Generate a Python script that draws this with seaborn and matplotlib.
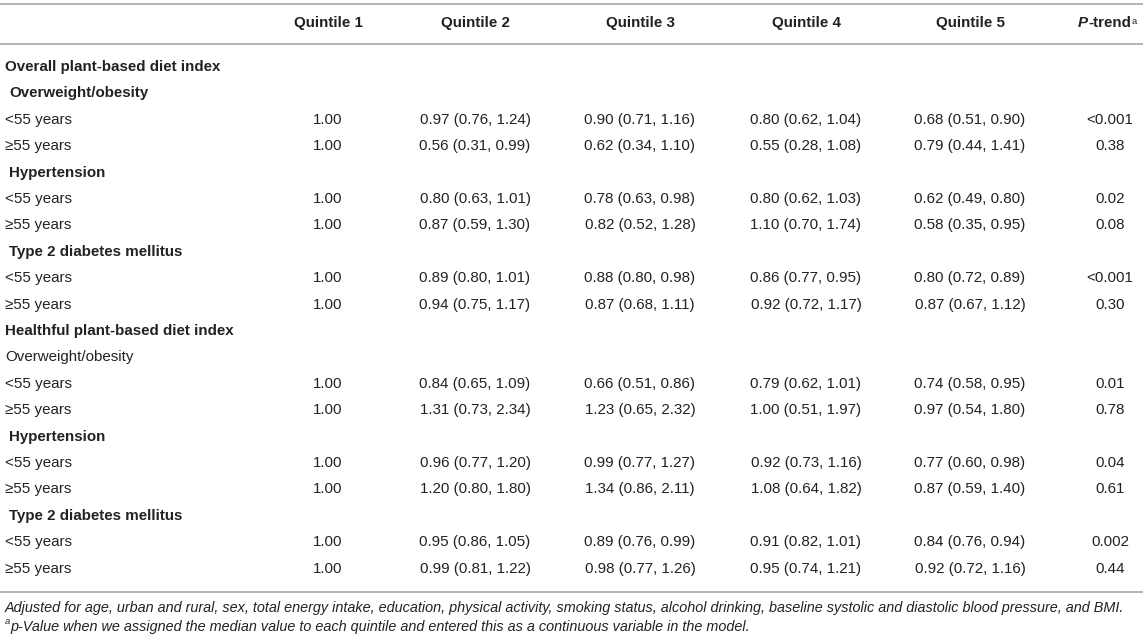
import matplotlib
matplotlib.use("Agg")
import matplotlib.pyplot as plt
import seaborn as sns
import pandas as pd

sns.set_theme(style="white")
plt.rcParams['font.family'] = ['Liberation Sans', 'DejaVu Sans']

# ---------------- data ----------------
columns = ["Quintile 1", "Quintile 2", "Quintile 3", "Quintile 4", "Quintile 5"]
p_header = "P-trend"

row_labels = [
    "Overall plant-based diet index", "Overweight/obesity", "<55 years", "≥55 years",
    "Hypertension", "<55 years", "≥55 years",
    "Type 2 diabetes mellitus", "<55 years", "≥55 years",
    "Healthful plant-based diet index", "Overweight/obesity", "<55 years", "≥55 years",
    "Hypertension", "<55 years", "≥55 years",
    "Type 2 diabetes mellitus", "<55 years", "≥55 years",
]
# row kind: 0 = section (bold), 1 = subsection bold indented, 2 = plain subsection, 3 = data row
row_kind = [0, 1, 3, 3, 1, 3, 3, 1, 3, 3, 0, 2, 3, 3, 1, 3, 3, 1, 3, 3]

q1 = ["", "", "1.00", "1.00", "", "1.00", "1.00", "", "1.00", "1.00",
      "", "", "1.00", "1.00", "", "1.00", "1.00", "", "1.00", "1.00"]
q2 = ["", "", "0.97 (0.76, 1.24)", "0.56 (0.31, 0.99)", "", "0.80 (0.63, 1.01)", "0.87 (0.59, 1.30)",
      "", "0.89 (0.80, 1.01)", "0.94 (0.75, 1.17)",
      "", "", "0.84 (0.65, 1.09)", "1.31 (0.73, 2.34)", "", "0.96 (0.77, 1.20)", "1.20 (0.80, 1.80)",
      "", "0.95 (0.86, 1.05)", "0.99 (0.81, 1.22)"]
q3 = ["", "", "0.90 (0.71, 1.16)", "0.62 (0.34, 1.10)", "", "0.78 (0.63, 0.98)", "0.82 (0.52, 1.28)",
      "", "0.88 (0.80, 0.98)", "0.87 (0.68, 1.11)",
      "", "", "0.66 (0.51, 0.86)", "1.23 (0.65, 2.32)", "", "0.99 (0.77, 1.27)", "1.34 (0.86, 2.11)",
      "", "0.89 (0.76, 0.99)", "0.98 (0.77, 1.26)"]
q4 = ["", "", "0.80 (0.62, 1.04)", "0.55 (0.28, 1.08)", "", "0.80 (0.62, 1.03)", "1.10 (0.70, 1.74)",
      "", "0.86 (0.77, 0.95)", "0.92 (0.72, 1.17)",
      "", "", "0.79 (0.62, 1.01)", "1.00 (0.51, 1.97)", "", "0.92 (0.73, 1.16)", "1.08 (0.64, 1.82)",
      "", "0.91 (0.82, 1.01)", "0.95 (0.74, 1.21)"]
q5 = ["", "", "0.68 (0.51, 0.90)", "0.79 (0.44, 1.41)", "", "0.62 (0.49, 0.80)", "0.58 (0.35, 0.95)",
      "", "0.80 (0.72, 0.89)", "0.87 (0.67, 1.12)",
      "", "", "0.74 (0.58, 0.95)", "0.97 (0.54, 1.80)", "", "0.77 (0.60, 0.98)", "0.87 (0.59, 1.40)",
      "", "0.84 (0.76, 0.94)", "0.92 (0.72, 1.16)"]
p_trend = ["", "", "<0.001", "0.38", "", "0.02", "0.08", "", "<0.001", "0.30",
           "", "", "0.01", "0.78", "", "0.04", "0.61", "", "0.002", "0.44"]

footnote1 = ("Adjusted for age, urban and rural, sex, total energy intake, education, physical activity, "
             "smoking status, alcohol drinking, baseline systolic and diastolic blood pressure, and BMI.")
footnote2 = ("p-Value when we assigned the median value to each quintile and entered this as a "
             "continuous variable in the model.")

df = pd.DataFrame({"label": row_labels, "kind": row_kind, "Quintile 1": q1, "Quintile 2": q2,
                   "Quintile 3": q3, "Quintile 4": q4, "Quintile 5": q5, "P": p_trend})

# ---------------- layout ----------------
W, H = 1146, 639
fig = plt.figure(figsize=(W / 100, H / 100), dpi=100)
ax = fig.add_axes([0, 0, 1, 1])
ax.set_xlim(0, W)
ax.set_ylim(H, 0)
ax.axis("off")

txt = "#222222"
line_c = "#b4b4b4"
fs = 10.9
fs_foot = 10.4
col_x = [328, 475, 640, 806, 970]
p_x = 1110
header_y = 23
row_y0 = 67
row_dy = 26.4

for yl in (4, 44, 592):
    ax.plot([0, 1143], [yl, yl], color=line_c, lw=1.4, solid_capstyle="butt")

# header
for cx, name in zip(col_x, columns):
    ax.text(cx, header_y, name, ha="center", va="center", fontsize=fs, fontweight="bold", color=txt)
tP = ax.text(1078, header_y, "P", ha="left", va="center", fontsize=fs, fontweight="bold",
             fontstyle="italic", color=txt)
tT = ax.annotate("-trend", xy=(1, 0), xycoords=tP, ha="left", va="bottom", fontsize=fs,
                 fontweight="bold", color=txt)
ax.annotate("a", xy=(1, 1), xycoords=tT, ha="left", va="top", fontsize=fs * 0.62, color=txt,
            xytext=(0.5, -0.5), textcoords="offset points")

# body
for i, r in df.iterrows():
    y = row_y0 + i * row_dy
    k = r["kind"]
    if k == 0:
        ax.text(5, y, r["label"], ha="left", va="center", fontsize=fs, fontweight="bold", color=txt)
    elif k == 1:
        ax.text(9, y, r["label"], ha="left", va="center", fontsize=fs, fontweight="bold", color=txt)
    elif k == 2:
        ax.text(5, y, r["label"], ha="left", va="center", fontsize=fs, color=txt)
    else:
        ax.text(5, y, r["label"], ha="left", va="center", fontsize=fs, color=txt)
        for cx, c in zip(col_x, columns):
            ax.text(cx, y, r[c], ha="center", va="center", fontsize=fs, color=txt)
        ax.text(p_x, y, r["P"], ha="center", va="center", fontsize=fs, color=txt)

# footnotes
ax.text(5, 608, footnote1, ha="left", va="center", fontsize=fs_foot, fontstyle="italic", color=txt)
ta = ax.text(5, 626, "a", ha="left", va="bottom", fontsize=fs * 0.62, fontstyle="italic", color=txt)
ax.annotate(footnote2, xy=(1, 0), xycoords=ta, ha="left", va="top", fontsize=fs_foot,
            fontstyle="italic", color=txt, xytext=(0.3, 4.2), textcoords="offset points")

fig.savefig("out.png", dpi=100, facecolor="white")
